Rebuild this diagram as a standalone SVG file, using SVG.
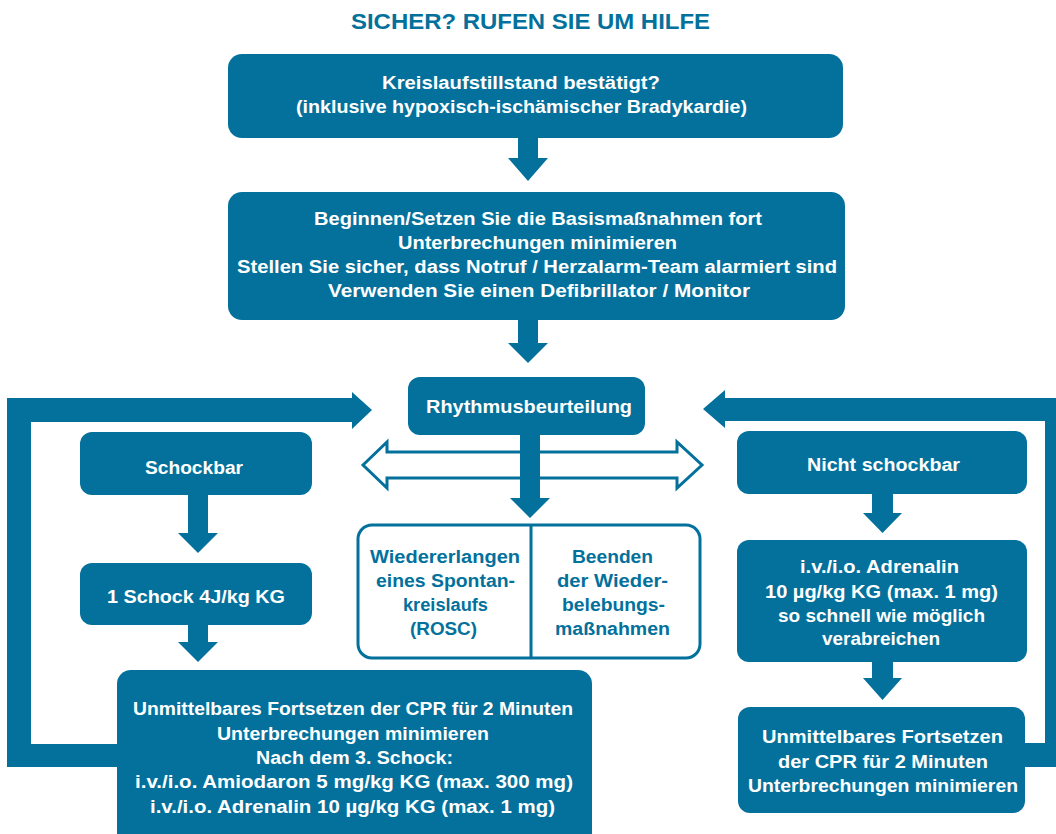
<svg xmlns="http://www.w3.org/2000/svg" width="1056" height="834" viewBox="0 0 1056 834">
<style>
.box{fill:#03719c}
.obox{fill:#fff;stroke:#03719c;stroke-width:3}
.arr{fill:#03719c}
.harr{fill:#fff;stroke:#03719c;stroke-width:3;stroke-linejoin:miter}
text{font-family:"Liberation Sans",Arial,sans-serif;font-weight:bold;font-size:17.5px}
.w{fill:#fff}
.b{fill:#03719c}
.title{font-size:22px}
</style>
<rect width="1056" height="834" fill="#fff"/>
<g id="title">
<text class="b title" x="351" y="29" textLength="359" lengthAdjust="spacingAndGlyphs">SICHER? RUFEN SIE UM HILFE</text>
</g>
<g id="connectors">
<path class="arr" d="M7,767 V398 H352 V392 L372,410 L352,429 V422 H31 V744 H120 V767 Z"/>
<path class="arr" d="M1069,767 V398 H725 V390 L703,409 L725,428 V421 H1045 V743 H1022 V767 Z"/>
<polygon class="arr" points="518,136 538,136 538,158 548,158 528,181 508,158 518,158"/>
<polygon class="arr" points="518,319 538,319 538,343 548,343 528,363 508,343 518,343"/>
<polygon class="harr" points="363,465 387,442 387,452 677,452 677,442 702,465 677,488 677,478 387,478 387,488"/>
<polygon class="arr" points="520,433 540,433 540,498 550,498 530,518 510,498 520,498"/>
<polygon class="arr" points="188,494 208,494 208,533 218,533 198,553 178,533 188,533"/>
<polygon class="arr" points="188,624 208,624 208,642 218,642 198,662 178,642 188,642"/>
<polygon class="arr" points="872,493 893,493 893,513 902,513 882.5,533 863,513 872,513"/>
<polygon class="arr" points="872,661 893,661 893,678 902,678 882.5,700 863,678 872,678"/>
</g>
<g id="n1">
<rect class="box" x="228" y="54" width="615" height="84" rx="14"/>
<text class="w" x="382" y="89" textLength="278" lengthAdjust="spacingAndGlyphs">Kreislaufstillstand bestätigt?</text>
<text class="w" x="296" y="113" textLength="451" lengthAdjust="spacingAndGlyphs">(inklusive hypoxisch-ischämischer Bradykardie)</text>
</g>
<g id="n2">
<rect class="box" x="228" y="192" width="617" height="128" rx="14"/>
<text class="w" x="314" y="225" textLength="448" lengthAdjust="spacingAndGlyphs">Beginnen/Setzen Sie die Basismaßnahmen fort</text>
<text class="w" x="398" y="249" textLength="279" lengthAdjust="spacingAndGlyphs">Unterbrechungen minimieren</text>
<text class="w" x="237" y="273" textLength="600" lengthAdjust="spacingAndGlyphs">Stellen Sie sicher, dass Notruf / Herzalarm-Team alarmiert sind</text>
<text class="w" x="328" y="297" textLength="422" lengthAdjust="spacingAndGlyphs">Verwenden Sie einen Defibrillator / Monitor</text>
</g>
<g id="n3">
<rect class="box" x="408" y="377" width="237" height="58" rx="12"/>
<text class="w" x="426" y="413" textLength="206" lengthAdjust="spacingAndGlyphs">Rhythmusbeurteilung</text>
</g>
<g id="n4">
<rect class="box" x="80" y="432" width="232" height="63" rx="12"/>
<text class="w" x="145" y="474" textLength="98" lengthAdjust="spacingAndGlyphs">Schockbar</text>
</g>
<g id="n5">
<rect class="box" x="80" y="563" width="232" height="62" rx="12"/>
<text class="w" x="107" y="603" textLength="178" lengthAdjust="spacingAndGlyphs">1 Schock 4J/kg KG</text>
</g>
<g id="n6">
<rect class="box" x="117" y="670" width="475" height="190" rx="14"/>
<text class="w" x="133" y="715" textLength="440" lengthAdjust="spacingAndGlyphs">Unmittelbares Fortsetzen der CPR für 2 Minuten</text>
<text class="w" x="217" y="740" textLength="272" lengthAdjust="spacingAndGlyphs">Unterbrechungen minimieren</text>
<text class="w" x="256" y="764" textLength="197" lengthAdjust="spacingAndGlyphs">Nach dem 3. Schock:</text>
<text class="w" x="135" y="788" textLength="438" lengthAdjust="spacingAndGlyphs">i.v./i.o. Amiodaron 5 mg/kg KG (max. 300 mg)</text>
<text class="w" x="150" y="813" textLength="405" lengthAdjust="spacingAndGlyphs">i.v./i.o. Adrenalin 10 µg/kg KG (max. 1 mg)</text>
</g>
<g id="n7">
<rect class="obox" x="358" y="525" width="342" height="133" rx="14"/>
<line x1="531" y1="525" x2="531" y2="658" stroke="#03719c" stroke-width="3"/>
<text class="b" x="370" y="563" textLength="150" lengthAdjust="spacingAndGlyphs">Wiedererlangen</text>
<text class="b" x="376" y="587" textLength="139" lengthAdjust="spacingAndGlyphs">eines Spontan-</text>
<text class="b" x="403" y="611" textLength="85" lengthAdjust="spacingAndGlyphs">kreislaufs</text>
<text class="b" x="410" y="635" textLength="67" lengthAdjust="spacingAndGlyphs">(ROSC)</text>
<text class="b" x="572" y="563" textLength="81" lengthAdjust="spacingAndGlyphs">Beenden</text>
<text class="b" x="557" y="587" textLength="111" lengthAdjust="spacingAndGlyphs">der Wieder-</text>
<text class="b" x="562" y="611" textLength="103" lengthAdjust="spacingAndGlyphs">belebungs-</text>
<text class="b" x="555" y="635" textLength="115" lengthAdjust="spacingAndGlyphs">maßnahmen</text>
</g>
<g id="n8">
<rect class="box" x="737" y="431" width="290" height="63" rx="12"/>
<text class="w" x="807" y="471" textLength="153" lengthAdjust="spacingAndGlyphs">Nicht schockbar</text>
</g>
<g id="n9">
<rect class="box" x="737" y="540" width="290" height="122" rx="12"/>
<text class="w" x="800" y="573" textLength="159" lengthAdjust="spacingAndGlyphs">i.v./i.o. Adrenalin</text>
<text class="w" x="765" y="598" textLength="233" lengthAdjust="spacingAndGlyphs">10 µg/kg KG (max. 1 mg)</text>
<text class="w" x="778" y="622" textLength="207" lengthAdjust="spacingAndGlyphs">so schnell wie möglich</text>
<text class="w" x="822" y="645" textLength="118" lengthAdjust="spacingAndGlyphs">verabreichen</text>
</g>
<g id="n10">
<rect class="box" x="738" y="707" width="287" height="106" rx="12"/>
<text class="w" x="762" y="743" textLength="241" lengthAdjust="spacingAndGlyphs">Unmittelbares Fortsetzen</text>
<text class="w" x="778" y="768" textLength="210" lengthAdjust="spacingAndGlyphs">der CPR für 2 Minuten</text>
<text class="w" x="748" y="792" textLength="270" lengthAdjust="spacingAndGlyphs">Unterbrechungen minimieren</text>
</g>
</svg>
